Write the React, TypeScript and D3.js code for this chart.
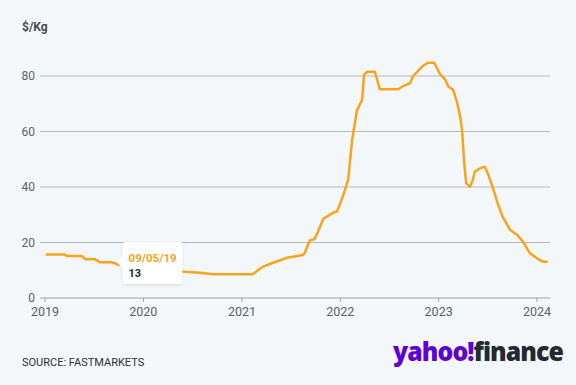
import { useEffect, useRef } from "react";
import * as d3 from "d3";

// lithium hydroxide price, $/Kg
const dates = [
  "2019-01-04", "2019-03-14", "2019-03-25", "2019-05-19", "2019-05-30", "2019-07-05",
  "2019-07-24", "2019-09-05", "2019-10-04", "2019-12-20", "2020-03-20", "2020-06-02",
  "2020-07-31", "2020-09-16", "2021-02-10", "2021-03-18", "2021-04-27", "2021-06-18",
  "2021-08-15", "2021-08-22", "2021-09-09", "2021-09-27", "2021-10-08", "2021-10-30",
  "2021-12-05", "2021-12-20", "2022-01-12", "2022-01-30", "2022-02-14", "2022-03-04",
  "2022-03-23", "2022-03-30", "2022-04-10", "2022-05-09", "2022-05-20", "2022-05-27",
  "2022-08-04", "2022-08-19", "2022-09-17", "2022-09-28", "2022-10-16", "2022-11-03",
  "2022-11-21", "2022-12-16", "2023-01-04", "2023-01-26", "2023-02-06", "2023-02-24",
  "2023-03-11", "2023-03-22", "2023-03-29", "2023-04-05", "2023-04-13", "2023-04-27",
  "2023-05-08", "2023-05-15", "2023-06-03", "2023-06-21", "2023-07-02", "2023-07-20",
  "2023-08-08", "2023-08-26", "2023-09-24", "2023-10-20", "2023-11-10", "2023-12-06",
  "2024-01-01", "2024-01-23", "2024-02-10",
];
const prices = [
  15.7, 15.7, 15.1, 15.1, 14.0, 14.0,
  12.9, 12.9, 12.0, 11.0, 10.0, 9.5,
  9.1, 8.6, 8.6, 11.2, 12.7, 14.5,
  15.5, 16.2, 20.7, 21.2, 23.4, 28.5,
  30.7, 31.2, 37.0, 42.5, 57.0, 67.7,
  71.4, 80.4, 81.5, 81.5, 78.0, 75.2,
  75.2, 76.2, 77.4, 80.0, 81.8, 83.6,
  84.8, 84.8, 81.0, 78.6, 76.2, 75.0,
  70.3, 65.3, 60.5, 49.7, 41.4, 40.1,
  42.5, 45.5, 46.7, 47.3, 45.0, 40.1,
  34.2, 29.3, 24.5, 22.7, 20.3, 16.1,
  14.3, 13.1, 13.1,
];
const yTicks = [0, 20, 40, 60, 80];
const xTicks = ["2019-01-01", "2020-01-01", "2021-01-01", "2022-01-01", "2023-01-01", "2024-01-01"];
const tipDate = "09/05/19";
const tipValue = 13;

export default function App() {
  const svgRef = useRef<SVGSVGElement | null>(null);

  useEffect(() => {
    if (!svgRef.current) return;
    const svg = d3.select(svgRef.current);
    svg.selectAll("*").remove();

    const width = 576;
    const height = 385;
    const parse = d3.timeParse("%Y-%m-%d");
    const rows = dates.map((d, i) => ({ date: parse(d)!, value: prices[i] }));
    const font = "Roboto, 'Liberation Sans', sans-serif";

    const x = d3
      .scaleTime()
      .domain([parse(xTicks[0])!, parse(xTicks[5])!])
      .range([45, 537]);
    const y = d3.scaleLinear().domain([0, 80]).range([298, 76]);

    svg.append("rect").attr("width", width).attr("height", height).attr("fill", "#f4f7fa");

    // gridlines + y labels
    const grid = svg.append("g");
    yTicks.forEach((t) => {
      grid
        .append("line")
        .attr("x1", 40)
        .attr("x2", 550)
        .attr("y1", y(t))
        .attr("y2", y(t))
        .attr("stroke", t === 0 ? "#9aa0a6" : "#b4b8bd")
        .attr("stroke-width", 1);
      grid
        .append("text")
        .attr("x", 35)
        .attr("y", y(t))
        .attr("dy", "0.35em")
        .attr("text-anchor", "end")
        .attr("font-family", font)
        .attr("font-size", 12)
        .attr("fill", "#5b6068")
        .text(t);
    });

    // x ticks
    xTicks.forEach((t) => {
      const px = x(parse(t)!);
      grid
        .append("line")
        .attr("x1", px)
        .attr("x2", px)
        .attr("y1", y(0))
        .attr("y2", y(0) + 4)
        .attr("stroke", "#9aa0a6");
      grid
        .append("text")
        .attr("x", px)
        .attr("y", 316)
        .attr("text-anchor", "middle")
        .attr("font-family", font)
        .attr("font-size", 12.5)
        .attr("fill", "#5b6068")
        .text(t.slice(0, 4));
    });

    svg
      .append("text")
      .attr("x", 22)
      .attr("y", 31)
      .attr("font-family", font)
      .attr("font-size", 12)
      .attr("font-weight", 700)
      .attr("fill", "#464c54")
      .text("$/Kg");

    const line = d3
      .line<{ date: Date; value: number }>()
      .x((d) => x(d.date))
      .y((d) => y(d.value));

    svg
      .append("path")
      .datum(rows)
      .attr("d", line)
      .attr("fill", "none")
      .attr("stroke", "#f8a41b")
      .attr("stroke-width", 2.5)
      .attr("stroke-linejoin", "round");

    // tooltip
    const tipX = x(parse("2019-09-05")!);
    const tipY = y(tipValue);
    const tip = svg.append("g").attr("transform", `translate(${tipX + 11},242)`);
    const defs = svg.append("defs");
    const filter = defs.append("filter").attr("id", "tipShadow").attr("x", "-20%").attr("y", "-20%").attr("width", "140%").attr("height", "150%");
    filter.append("feDropShadow").attr("dx", 0).attr("dy", 1).attr("stdDeviation", 1.5).attr("flood-color", "#000").attr("flood-opacity", 0.12);
    tip
      .append("path")
      .attr(
        "d",
        `M3,0 H57 Q60,0 60,3 V39 Q60,42 57,42 H3 Q0,42 0,39 V${tipY - 242 + 6} L-6,${tipY - 242} L0,${tipY - 242 - 6} V3 Q0,0 3,0 Z`,
      )
      .attr("fill", "#ffffff")
      .attr("filter", "url(#tipShadow)");
    tip
      .append("text")
      .attr("x", 6)
      .attr("y", 20)
      .attr("font-family", font)
      .attr("font-size", 11.5)
      .attr("font-weight", 700)
      .attr("fill", "#f8a41b")
      .text(tipDate);
    tip
      .append("text")
      .attr("x", 6)
      .attr("y", 35)
      .attr("font-family", font)
      .attr("font-size", 11)
      .attr("font-weight", 700)
      .attr("fill", "#232a31")
      .text(tipValue);

    svg
      .append("text")
      .attr("x", 22)
      .attr("y", 366)
      .attr("font-family", font)
      .attr("font-size", 11)
      .attr("fill", "#2c3036")
      .text("SOURCE: FASTMARKETS");

    // logo
    const logo = svg
      .append("text")
      .attr("x", 393)
      .attr("y", 361)
      .attr("font-family", "'Open Sans', Roboto, sans-serif")
      .attr("font-size", 27)
      .attr("font-weight", 800)
      .attr("letter-spacing", -1)
      .attr("textLength", 170)
      .attr("lengthAdjust", "spacingAndGlyphs");
    logo.append("tspan").attr("fill", "#6001d2").text("yahoo!");
    logo.append("tspan").attr("fill", "#232a31").text("finance");
  }, []);

  return (
    <svg
      ref={svgRef}
      width={576}
      height={385}
      style={{ position: "absolute", top: 0, left: 0, display: "block" }}
    />
  );
}
